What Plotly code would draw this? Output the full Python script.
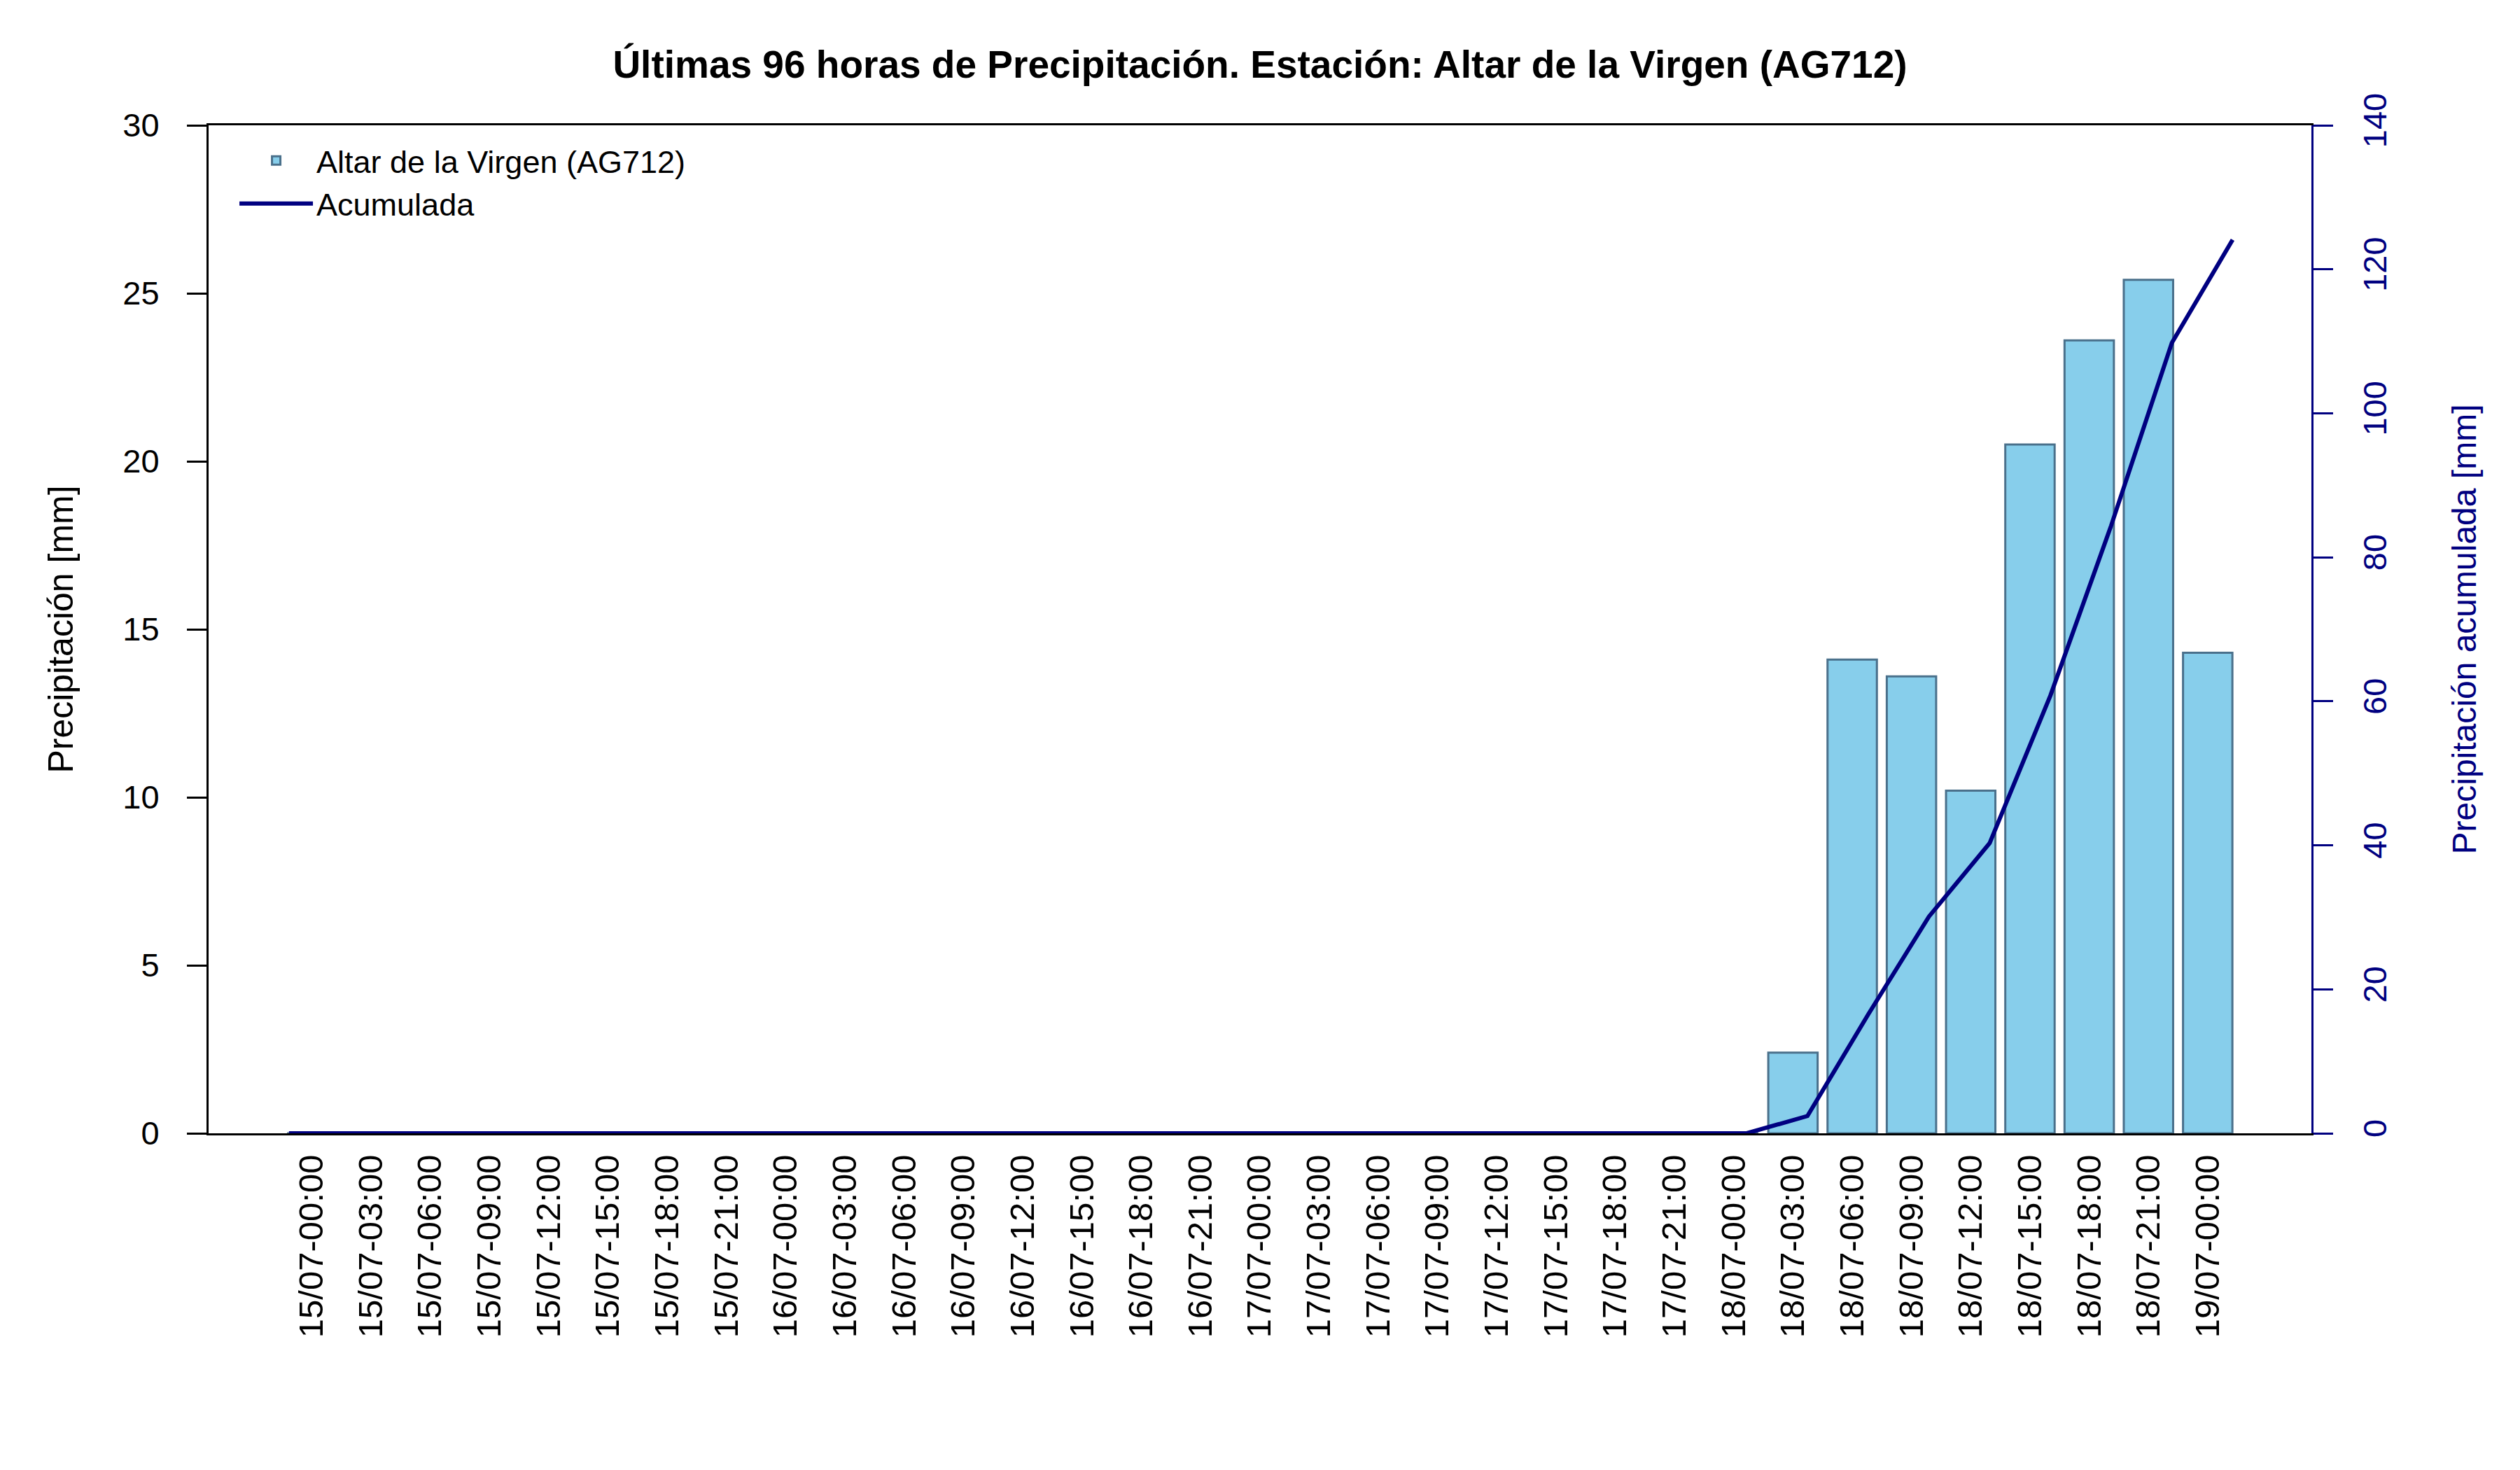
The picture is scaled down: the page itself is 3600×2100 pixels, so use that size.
import plotly.graph_objects as go

fechas = [
    "15/07-00:00", "15/07-03:00", "15/07-06:00", "15/07-09:00", "15/07-12:00",
    "15/07-15:00", "15/07-18:00", "15/07-21:00", "16/07-00:00", "16/07-03:00",
    "16/07-06:00", "16/07-09:00", "16/07-12:00", "16/07-15:00", "16/07-18:00",
    "16/07-21:00", "17/07-00:00", "17/07-03:00", "17/07-06:00", "17/07-09:00",
    "17/07-12:00", "17/07-15:00", "17/07-18:00", "17/07-21:00", "18/07-00:00",
    "18/07-03:00", "18/07-06:00", "18/07-09:00", "18/07-12:00", "18/07-15:00",
    "18/07-18:00", "18/07-21:00", "19/07-00:00",
]
precipitacion = [
    0, 0, 0, 0, 0, 0, 0, 0, 0, 0, 0, 0, 0, 0, 0, 0, 0, 0, 0, 0, 0, 0, 0, 0, 0,
    2.4, 14.1, 13.6, 10.2, 20.5, 23.6, 25.4, 14.3,
]
acumulada = [
    0, 0, 0, 0, 0, 0, 0, 0, 0, 0, 0, 0, 0, 0, 0, 0, 0, 0, 0, 0, 0, 0, 0, 0, 0,
    2.4, 16.5, 30.1, 40.3, 60.8, 84.4, 109.8, 124.1,
]
y_ticks_left = [0, 5, 10, 15, 20, 25, 30]
y_ticks_right = [0, 20, 40, 60, 80, 100, 120, 140]

FONT = "Liberation Sans, Arial, sans-serif"
NAVY = "#000080"

fig = go.Figure()
fig.add_trace(go.Bar(
    x=fechas, y=precipitacion, name="Altar de la Virgen (AG712)",
    marker=dict(color="#87CEEB", line=dict(color="#4A708B", width=3)),
    width=0.833, xaxis="x", yaxis="y",
))
fig.add_trace(go.Scatter(
    x=fechas, y=acumulada, name="Acumulada", mode="lines",
    line=dict(color=NAVY, width=6), xaxis="x2", yaxis="y2", cliponaxis=False,
))

fig.update_layout(
    width=3600, height=2100,
    margin=dict(l=298, r=298, t=179, b=481),
    paper_bgcolor="white", plot_bgcolor="white",
    font=dict(family=FONT, size=44, color="black"),
    title=dict(
        text="<b>Últimas 96 horas de Precipitación. Estación: Altar de la Virgen (AG712)</b>",
        x=0.5, xanchor="center", y=1 - 92 / 2100, yanchor="middle",
        font=dict(size=55, family=FONT, color="black"),
    ),
    showlegend=True,
    legend=dict(
        x=0.013, y=0.99, xanchor="left", yanchor="top",
        bgcolor="rgba(0,0,0,0)", font=dict(size=45, family=FONT),
        itemwidth=105, traceorder="normal",
    ),
    xaxis=dict(
        type="category", range=[-1.74, 33.75],
        showline=True, linecolor="black", linewidth=3, mirror=True,
        ticks="", tickangle=-90, tickfont=dict(size=49),
        showgrid=False, zeroline=False, layer="below traces",
        ticklabelstandoff=8,
    ),
    xaxis2=dict(
        type="category", overlaying="x", range=[-1.323, 33.297],
        visible=False, showgrid=False,
    ),
    yaxis=dict(
        range=[0, 30], tickvals=y_ticks_left,
        showline=True, linecolor="black", linewidth=3,
        ticks="outside", ticklen=28, tickwidth=3, tickcolor="black",
        tickfont=dict(size=47), showgrid=False, zeroline=False,
        ticklabelstandoff=30,
        title=dict(text="Precipitación [mm]", font=dict(size=50), standoff=55),
    ),
    yaxis2=dict(
        range=[0, 140], tickvals=y_ticks_right, overlaying="y", side="right",
        anchor="x",
        showline=True, linecolor=NAVY, linewidth=3,
        ticks="outside", ticklen=28, tickwidth=3, tickcolor=NAVY,
        tickangle=-90, tickfont=dict(size=47, color=NAVY),
        showgrid=False, zeroline=False, ticklabelstandoff=20,
        title=dict(text="Precipitación acumulada [mm]", font=dict(size=48, color=NAVY), standoff=85),
    ),
)

fig.write_html("out.html")
